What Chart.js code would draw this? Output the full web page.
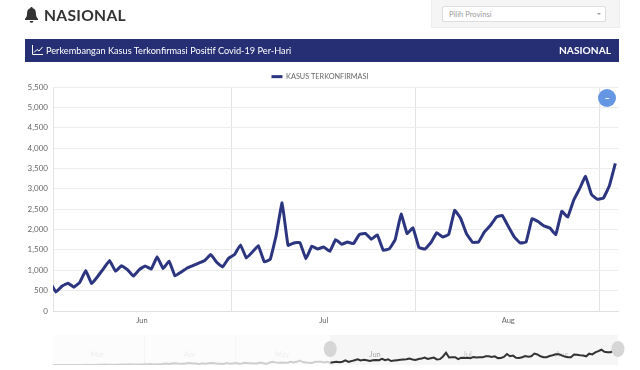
<!DOCTYPE html>
<html><head><meta charset="utf-8">
<style>
html,body{margin:0;padding:0;background:#fff;width:640px;height:370px;overflow:hidden;font-family:Lato,"Open Sans",sans-serif}
#page{position:absolute;left:0;top:0;width:640px;height:370px;filter:blur(.3px)}
.abs{position:absolute}
#title{left:44px;top:5px;font:700 15.6px/20px Lato;color:#333;letter-spacing:.3px}
#panel{left:431px;top:-2px;width:189px;height:30px;background:#f5f5f5;border:1px solid #eee;box-sizing:border-box}
#sel{left:442px;top:6px;width:164px;height:16px;background:#fff;border:1px solid #ddd;border-radius:2px;box-sizing:border-box;font:7.6px/14px Lato;color:#999;padding-left:6px}
#caret{left:597px;top:13px;width:0;height:0;border-left:2px solid transparent;border-right:2px solid transparent;border-top:2px solid #999}
#bar{left:25px;top:39px;width:594px;height:23px;background:#262f73;color:#fff}
#bt{left:21px;top:4px;font:400 9.2px/15px Lato;white-space:nowrap}
#bn{right:8px;top:4px;font:700 10.2px/15px Lato}
#main{left:0;top:66px}
#over{left:0;top:330px}
#btn{left:598px;top:89px;width:18px;height:18px;border-radius:50%;background:#6596e3;color:#fff;font:700 9px/17px Lato;text-align:center}
</style></head><body><div id="page">
<svg class="abs" style="left:25px;top:7px" width="13" height="16" viewBox="0 0 13 16"><path fill="#333" d="M6.5 0c.8 0 1.2.6 1.2 1.3 2.2.5 3.2 2.4 3.2 4.600 0 3.400 1 4.600 2.100 5.900v1.200H0v-1.200c1.100-1.300 2.100-2.500 2.100-5.900 0-2.200 1-4.100 3.200-4.600C5.300.6 5.700 0 6.500 0zM4.700 14h3.600c0 1-.8 1.800-1.800 1.800S4.700 15 4.700 14z"/></svg>
<div class="abs" id="title">NASIONAL</div>
<div class="abs" id="panel"></div>
<div class="abs" id="sel">Pilih Provinsi</div><div class="abs" id="caret"></div>
<div class="abs" id="bar">
<svg class="abs" style="left:7px;top:6px" width="11" height="10" viewBox="0 0 11 10"><path fill="none" stroke="#fff" stroke-width="1" d="M.5 0v9.500H11M2 7.500l3-3 2 1.500 3.500-4"/></svg>
<div class="abs" id="bt">Perkembangan Kasus Terkonfirmasi Positif Covid-19 Per-Hari</div>
<div class="abs" id="bn">NASIONAL</div></div>
<canvas class="abs" id="main" width="640" height="264"></canvas>
<canvas class="abs" id="over" width="640" height="40"></canvas>
<div class="abs" id="btn">–</div>
</div>
<script src="https://cdn.jsdelivr.net/npm/chart.js@4"></script>
<script>
const seriesName='KASUS TERKONFIRMASI';
const earlyCases=[2,0,0,0,2,0,2,13,8,7,8,35,27,21,17,38,55,82,60,81,64,65,107,105,103,153,109,130,129,114,
149,113,196,106,181,150,218,337,219,330,399,316,282,297,380,407,325,327,185,375,283,357,436,396,275,275,214,415,260,347,
433,292,349,484,367,395,336,338,533,387,233,484,689,568,490,529,496,486,693,569,693,973,634,526,479,415,686,687,678,557,700];
const juneCases=[467,609,684,585,703,993,672,847,1043,1241,979,1111,1014,857,1017,1106,1031,1331,1041,1226,862,954,1051,1113,1178,1240,1385,1198,1082,1293];
const julyCases=[1385,1624,1301,1447,1607,1209,1268,1853,2657,1611,1671,1681,1282,1591,1522,1574,1462,1752,1639,1693,1655,1882,1906,1761,1868,1492,1525,1748,2381,1904,2040];
const augustCases=[1560,1519,1679,1922,1815,1882,2473,2277,1893,1687,1693,1942,2098,2307,2345,2081,1821,1673,1692,2266,2197,2090,2037,1877,2447,2306,2719,3003,3308,2858,2743];
const septemberCases=[2775,3075,3622];
const monthTicks=[{at:14.45,label:'Jun'},{at:45,label:'Jul'},{at:76,label:'Aug'}];
const monthLines=[-0.5,29.5,60.5,91.4];
const overviewMonths=[{at:-76.5,label:'Mar',c:'#efefef'},{at:-46,label:'Apr',c:'#efefef'},{at:-15.8,label:'May',c:'#efefef'},{at:14.7,label:'Jun',c:'#aaaaaa'},{at:45,label:'Jul',c:'#c4c4c4'},{at:76,label:'Aug',c:'#cccccc'}];
const overviewLines=[-61,-31,0,30,61,92];
const yMax=5500,yStep=500;

const recent=[...juneCases,...julyCases,...augustCases,...septemberCases];
const recentPts=recent.map((y,i)=>({x:i,y}));
const earlyPts=earlyCases.map((y,i)=>({x:i-earlyCases.length,y}));

new Chart(document.getElementById('main'),{
 type:'line',
 data:{datasets:[{label:seriesName,data:[earlyPts[earlyPts.length-1],...recentPts],borderColor:'#2b3580',backgroundColor:'#2b3580',borderWidth:3,pointRadius:0,tension:0.08,borderJoinStyle:'round'}]},
 options:{responsive:false,animation:false,
  layout:{padding:{left:22,right:22,top:5,bottom:0}},
  plugins:{legend:{position:'top',maxHeight:16,labels:{boxWidth:11,boxHeight:3,color:'#666',font:{family:'Lato',size:7.3},padding:2,
    generateLabels(c){return Chart.defaults.plugins.legend.labels.generateLabels(c).map(l=>({...l,lineWidth:0}))}}},tooltip:{enabled:false}},
  scales:{
   x:{type:'linear',min:-0.5,max:94.45,
    afterBuildTicks(a){a.ticks=[...monthLines.map(v=>({value:v,label:''})),...monthTicks.map(t=>({value:t.at}))].sort((p,q)=>p.value-q.value)},
    afterFit(a){a.height=19},
    grid:{drawTicks:false,color:c=>monthLines.includes(c.tick.value)?'#e4e4e4':'rgba(0,0,0,0)'},
    border:{color:'#e0e0e0'},
    ticks:{autoSkip:false,maxRotation:0,padding:5,color:'#666',font:{family:'Lato',size:7.5},
     callback(v){const t=monthTicks.find(m=>m.at===v);return t?t.label:''}}},
   y:{min:0,max:yMax,
    afterFit(a){a.width=31},
    grid:{drawTicks:false,color:'#ececec',lineWidth:1},
    border:{color:'#e4e4e4'},
    ticks:{stepSize:yStep,padding:5,color:'#666',font:{family:'Lato',size:8},callback:v=>v.toLocaleString('en-US')}}
  }}
});

const sliderPlugin={id:'slider',
 beforeDraw(c){const {ctx,chartArea:a,scales:{x}}=c;const p=x.getPixelForValue(0);
  ctx.save();ctx.fillStyle='#fcfcfc';ctx.fillRect(a.left,a.top,p-a.left,a.height);ctx.fillStyle='#f6f6f6';ctx.fillRect(p,a.top,a.right-p,a.height);ctx.restore()},
 afterDatasetsDraw(c){const {ctx,chartArea:a,scales:{x}}=c;ctx.save();ctx.fillStyle='#d6d6d6';
  [x.getPixelForValue(0),a.right].forEach(px=>{ctx.beginPath();ctx.ellipse(px,a.top+14,6.5,8,0,0,Math.PI*2);ctx.fill()});ctx.restore()}
};
new Chart(document.getElementById('over'),{
 type:'line',plugins:[sliderPlugin],
 data:{datasets:[
  {label:'sebelum',data:[...earlyPts,recentPts[0]],borderColor:'#cfcfcf',borderWidth:2,pointRadius:0},
  {label:'terpilih',data:recentPts,borderColor:'#333',borderWidth:2,pointRadius:0}]},
 options:{responsive:false,animation:false,
  layout:{padding:{left:53,right:22,top:5,bottom:5}},
  plugins:{legend:{display:false},tooltip:{enabled:false}},
  scales:{
   x:{type:'linear',min:-91,max:94.45,
    afterBuildTicks(a){a.ticks=[...overviewLines.map(v=>({value:v})),...overviewMonths.map(t=>({value:t.at}))].sort((p,q)=>p.value-q.value)},
    afterFit(a){a.height=0},
    grid:{drawTicks:false,color:c=>overviewLines.includes(c.tick.value)?'#f5f5f5':'rgba(0,0,0,0)'},
    border:{display:false},
    ticks:{autoSkip:false,maxRotation:0,mirror:true,padding:6,z:0,
     color:c=>{const t=overviewMonths.find(m=>m.at===c.tick.value);return t?t.c:'#eee'},font:{family:'Lato',size:7.5},
     callback(v){const t=overviewMonths.find(m=>m.at===v);return t?t.label:''}}},
   y:{display:false,min:0,max:6500}
  }}
});
</script>
</body></html>
